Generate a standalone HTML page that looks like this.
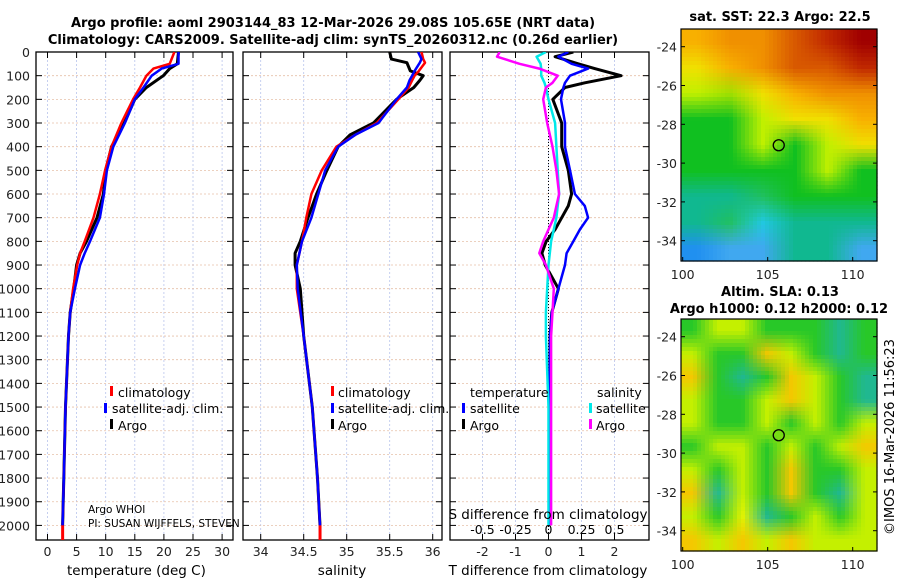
<!DOCTYPE html>
<html><head><meta charset="utf-8"><style>
html,body{margin:0;padding:0;background:#fff;}
svg{display:block;font-family:"DejaVu Sans","Liberation Sans",sans-serif;}
</style></head><body>
<svg id="fig" width="900" height="580" viewBox="0 0 900 580" xmlns="http://www.w3.org/2000/svg">
<defs>
<clipPath id="clipP1"><rect x="36" y="52" width="197" height="488"/></clipPath>
<clipPath id="clipP2"><rect x="243" y="52" width="199" height="488"/></clipPath>
<clipPath id="clipP3"><rect x="450" y="52" width="199" height="488"/></clipPath>
</defs>
<g font-weight="bold" font-size="13" text-anchor="middle" fill="#000">
<text x="333" y="27">Argo profile: aoml 2903144_83 12-Mar-2026 29.08S 105.65E (NRT data)</text>
<text x="333" y="44">Climatology: CARS2009. Satellite-adj clim: synTS_20260312.nc (0.26d earlier)</text>
<text x="780" y="21">sat. SST: 22.3 Argo: 22.5</text>
<text x="780" y="296">Altim. SLA: 0.13</text>
<text x="779" y="313">Argo h1000: 0.12 h2000: 0.12</text>
</g>
<text transform="translate(894,437) rotate(-90)" font-size="13" text-anchor="middle">©IMOS 16-Mar-2026 11:56:23</text>
<g id="maps"></g>
<g id="panels"></g>
</svg>
<script>
// ---------- data ----------
const tempDepth = [0,50,70,100,150,200,300,400,500,600,700,800,850,900,1000,1100,1200,1500,1800,2000];
const tempClim  = [21.8,21.0,18.2,17.0,15.9,14.7,12.7,11.0,9.9,9.0,7.9,6.4,5.6,5.1,4.4,3.9,3.6,3.1,2.8,2.6];
const tempSat   = [22.5,22.5,19.6,17.9,16.5,15.0,13.3,11.3,10.2,9.7,9.0,7.3,6.4,5.6,4.7,3.9,3.6,3.1,2.8,2.6];
const tempArgo  = [22.5,22.3,21.0,19.9,17.0,15.0,13.2,11.0,10.0,9.6,8.5,6.7,5.6,5.0,4.5,3.9,3.6,3.1,2.8,2.6];
const salDepth  = [0,30,45,80,100,120,150,200,300,350,400,500,600,700,800,850,900,1000,1200,1500,1800,2000];
const salClim   = [35.87,35.89,35.91,35.84,35.79,35.76,35.72,35.60,35.35,35.1,34.88,34.71,34.59,34.53,34.48,34.45,34.42,34.42,34.5,34.6,34.66,34.69];
const salSat    = [35.83,35.87,35.85,35.79,35.76,35.73,35.70,35.58,35.37,35.1,34.90,34.75,34.67,34.59,34.48,34.45,34.42,34.43,34.5,34.6,34.66,34.69];
const salArgo   = [35.50,35.52,35.70,35.74,35.89,35.85,35.78,35.58,35.31,35.04,34.90,34.77,34.65,34.55,34.46,34.40,34.40,34.46,34.5,34.6,34.66,34.69];
const diffDepth = [0,20,50,70,100,130,150,200,300,400,500,600,650,700,750,800,850,900,1000,1100,1200,1500,1800,2000];
const dTArgo    = [0.75,0.2,0.9,1.4,2.2,1.1,0.5,0.13,0.4,0.4,0.6,0.7,0.6,0.4,0.2,-0.07,-0.2,-0.1,0.3,0.1,0.05,0.03,0.02,0.02];
const dTSat     = [0.6,0.3,0.7,1.2,0.65,0.5,0.45,0.38,0.5,0.5,0.65,0.8,1.1,1.2,0.95,0.75,0.55,0.5,0.3,0.1,0.05,0.03,0.02,0.02];
const dSSat     = [-0.02,-0.09,-0.06,-0.055,-0.055,-0.03,-0.02,0.0,0.05,0.06,0.07,0.08,0.07,0.06,0.04,0.02,0.01,0.0,-0.01,-0.02,-0.02,0.0,0.0,0.0];
const dSArgo    = [-0.37,-0.39,-0.22,-0.07,0.07,0.03,-0.02,-0.04,-0.01,0.03,0.06,0.08,0.06,0.04,0.0,-0.04,-0.07,-0.02,0.04,0.03,0.02,0.02,0.02,0.02];
const depthTicks = [0,100,200,300,400,500,600,700,800,900,1000,1100,1200,1300,1400,1500,1600,1700,1800,1900,2000];
const tempTicks = [0,5,10,15,20,25,30];
const salTicks = [34,34.5,35,35.5,36];
const dTTicks = [-2,-1,0,1,2];
const dSTickLabels = ["-0.5","-0.25","0","0.25","0.5"];
const dSTicks = [-0.5,-0.25,0,0.25,0.5];
const lonTicks = [100,105,110];
const latTicks = [-24,-26,-28,-30,-32,-34];
const argoLon = 105.65, argoLat = -29.08;
const sstGrid = [
 "oOOrRD","yoOrrR","lLyoOO","GGlyyo","GGlGly","GGGGlG","TTgGGG","TgCTTT","BbbTTb"];
const slaGrid = [
 "GLLGGGTG","LGGOLGTG","OGTGOLGT","LGGLOLGT","LGGLGLGL","GLLGLGLO","LGLGOGGL","OTLGOGTL","LGYTGLGL","OLOLOLLL"];

// ---------- helpers ----------
const NS = "http://www.w3.org/2000/svg";
const svg = document.getElementById('fig');
const panels = document.getElementById('panels');
const maps = document.getElementById('maps');
function mk(tag, attrs, parent){const e=document.createElementNS(NS,tag);for(const k in attrs)e.setAttribute(k,attrs[k]);(parent||svg).appendChild(e);return e;}
const yTop=52, yBot=540, pxPerM=0.2367;
function yD(d){return yTop+d*pxPerM;}
const xT=t=>47.5+t*5.82;
const xS=s=>260.7+(s-34)*86;
const xDT=t=>548.5+t*33;
const xDS=s=>548.5+s*132;

function panelFrame(x0,x1,name,xt,xfn,labels,showY){
  const g=mk('g',{},panels);
  
  
  xt.forEach(v=>{const x=xfn(v);const l=mk('line',{x1:x,x2:x,y1:yTop,y2:yBot,stroke:'#b8c4ec','stroke-width':0.8,'stroke-dasharray':'2,2'},g);
    });
  depthTicks.forEach(d=>{const y=yD(d);const l=mk('line',{x1:x0,x2:x1,y1:y,y2:y,stroke:'#e6c0a8','stroke-width':0.8,'stroke-dasharray':'2,2'},g);
    
    mk('line',{x1:x0,x2:x0+6,y1:y,y2:y,stroke:'#000'},g);mk('line',{x1:x1-6,x2:x1,y1:y,y2:y,stroke:'#000'},g);
    if(showY){const t=mk('text',{x:x0-6,y:y+5,'font-size':12.5,'text-anchor':'end',fill:'#222'},g);t.textContent=d;
      }
  });
  xt.forEach((v,i)=>{const x=xfn(v);mk('line',{x1:x,x2:x,y1:yBot,y2:yBot-6,stroke:'#000'},g);mk('line',{x1:x,x2:x,y1:yTop,y2:yTop+6,stroke:'#000'},g);
    if(labels){const t=mk('text',{x:x,y:556,'font-size':12.5,'text-anchor':'middle',fill:'#222'},g);t.textContent=labels[i];
      }});
  const r=mk('rect',{x:x0,y:yTop,width:x1-x0,height:yBot-yTop,fill:'none',stroke:'#000','stroke-width':1.3},g);
  
  return g;
}
function line(xfn,vals,depths,color,w,clip,name){
  const d=vals.map((v,i)=>(i?'L':'M')+xfn(v).toFixed(1)+','+yD(depths[i]).toFixed(1)).join(' ');
  const p=mk('path',{d:d,fill:'none',stroke:color,'stroke-width':w,'stroke-linejoin':'round','clip-path':'url(#'+clip+')'},panels);
  
  
}
function txt(x,y,s,name,size,anchor){const t=mk('text',{x:x,y:y,'font-size':size||12.5,'text-anchor':anchor||'start'},panels);t.textContent=s;
  return t;}
function mark(x,y,color,name){const r=mk('rect',{x:x,y:y-6,width:3,height:10,fill:color},panels);
  }

// ---------- panel 1 ----------
panelFrame(36,233,'temperature-panel',tempTicks,xT,tempTicks.map(String),true);
line(xT,tempArgo,tempDepth,'#000',3,'clipP1','temp-argo-line');
line(xT,tempClim,tempDepth,'#ff0000',2.5,'clipP1','temp-climatology-line');
line(xT,tempSat,tempDepth,'#0000ff',2.5,'clipP1','temp-satellite-line');
mk('line',{x1:xT(2.6),x2:xT(2.6),y1:yD(2000),y2:yBot,stroke:'#f00','stroke-width':3},panels);
txt(67,575,'temperature (deg C)','temperature-axis-title',13.5);
mark(110,392,'#f00','legend-climatology-marker');txt(118,397,'climatology','legend-climatology');
mark(104,409,'#00f','legend-satellite-marker');txt(112,413,'satellite-adj. clim.','legend-satellite-adj');
mark(110,425,'#000','legend-argo-marker');txt(118,430,'Argo','legend-argo');
txt(88,513,'Argo WHOI','argo-institution',10.5);
txt(88,527,'PI: SUSAN WIJFFELS, STEVEN','argo-pi',10.5);

// ---------- panel 2 ----------
panelFrame(243,442,'salinity-panel',salTicks,xS,salTicks.map(String),false);
line(xS,salArgo,salDepth,'#000',3,'clipP2','sal-argo-line');
line(xS,salClim,salDepth,'#ff0000',2.5,'clipP2','sal-climatology-line');
line(xS,salSat,salDepth,'#0000ff',2.5,'clipP2','sal-satellite-line');
mk('line',{x1:xS(34.69),x2:xS(34.69),y1:yD(2000),y2:yBot,stroke:'#f00','stroke-width':3},panels);
txt(342,575,'salinity','salinity-axis-title',13.5,'middle');
mark(331,392,'#f00','legend2-climatology-marker');txt(338,397,'climatology','legend2-climatology');
mark(331,409,'#00f','legend2-satellite-marker');txt(338,413,'satellite-adj. clim.','legend2-satellite-adj');
mark(331,425,'#000','legend2-argo-marker');txt(338,430,'Argo','legend2-argo');

// ---------- panel 3 ----------
panelFrame(450,649,'difference-panel',dTTicks,xDT,dTTicks.map(String),false);
mk('line',{x1:xDT(0),x2:xDT(0),y1:yTop,y2:yBot,stroke:'#000','stroke-width':1,'stroke-dasharray':'1,2'},panels);
line(xDT,dTArgo,diffDepth,'#000',3,'clipP3','dT-argo-line');
line(xDT,dTSat,diffDepth,'#0000ff',2.5,'clipP3','dT-satellite-line');
line(xDS,dSSat,diffDepth,'#00e8e8',2.5,'clipP3','dS-satellite-line');
line(xDS,dSArgo,diffDepth,'#ff00ff',2.5,'clipP3','dS-argo-line');
txt(548,575,'T difference from climatology','dT-axis-title',13.5,'middle');
txt(548,519,'S difference from climatology','dS-axis-title',13.5,'middle');
dSTicks.forEach((v,i)=>txt(xDS(v),534,dSTickLabels[i],'dS-tick-label',12.5,'middle'));
txt(470,397,'temperature','legend3-temperature-header');
txt(597,397,'salinity','legend3-salinity-header');
mark(462,409,'#00f','legend3-t-satellite-marker');txt(470,413,'satellite','legend3-t-satellite');
mark(462,425,'#000','legend3-t-argo-marker');txt(470,430,'Argo','legend3-t-argo');
mark(589,409,'#00e8e8','legend3-s-satellite-marker');txt(596,413,'satellite','legend3-s-satellite');
mark(589,425,'#f0f','legend3-s-argo-marker');txt(596,430,'Argo','legend3-s-argo');

// ---------- maps ----------
const sstColors={D:'#a00000',R:'#c02800',r:'#d85800',O:'#f09000',o:'#f8b000',y:'#f0e000',l:'#c0f000',L:'#a0e000',G:'#10c020',g:'#20c060',T:'#10b890',C:'#20c8e0',B:'#2090f0',b:'#40a8f0'};
const slaColors={G:'#28c828',L:'#c4f000',O:'#f4c800',T:'#20b890',Y:'#e4f400'};
function hex(h){return [parseInt(h.substr(1,2),16),parseInt(h.substr(3,2),16),parseInt(h.substr(5,2),16)];}
const lonX=(lon)=>682.7+(lon-100)*17;
function drawMap(y0,grid,colors,name,lat24y,nx,ny){
  const g=mk('g',{},maps);
  
  
  const x0=681,w=196,h=232;
  const rows=grid.length,cols=grid[0].length;
  const C=grid.map(r=>r.split('').map(ch=>hex(colors[ch])));
  const cw=w/nx,ch=h/ny;
  for(let j=0;j<ny;j++)for(let i=0;i<nx;i++){
    let fx=(i+0.5)/nx*cols-0.5, fy=(j+0.5)/ny*rows-0.5;
    fx=Math.max(0,Math.min(cols-1.0001,fx)); fy=Math.max(0,Math.min(rows-1.0001,fy));
    const ix=Math.floor(fx),iy=Math.floor(fy),ax=fx-ix,ay=fy-iy;
    const ix2=Math.min(cols-1,ix+1),iy2=Math.min(rows-1,iy+1);
    const c=[0,1,2].map(k=>Math.round(C[iy][ix][k]*(1-ax)*(1-ay)+C[iy][ix2][k]*ax*(1-ay)+C[iy2][ix][k]*(1-ax)*ay+C[iy2][ix2][k]*ax*ay));
    mk('rect',{x:(x0+i*cw).toFixed(2),y:(y0+j*ch).toFixed(2),width:(cw+0.6).toFixed(2),height:(ch+0.6).toFixed(2),fill:'rgb('+c.join(',')+')'},g);
  }
  const latY=lat=>lat24y+(-24-lat)*19.4;
  mk('rect',{x:x0,y:y0,width:w,height:h,fill:'none',stroke:'#000','stroke-width':1.2},g);
  lonTicks.forEach(v=>{const x=lonX(v);mk('line',{x1:x,x2:x,y1:y0+h,y2:y0+h-4,stroke:'#000'},g);
    const t=mk('text',{x:x,y:y0+h+18,'font-size':12.5,'text-anchor':'middle',fill:'#222'},g);t.textContent=v;
    });
  latTicks.forEach(v=>{const y=latY(v);mk('line',{x1:x0,x2:x0+4,y1:y,y2:y,stroke:'#000'},g);mk('line',{x1:x0+w-4,x2:x0+w,y1:y,y2:y,stroke:'#000'},g);
    const t=mk('text',{x:x0-4,y:y+5,'font-size':12.5,'text-anchor':'end',fill:'#222'},g);t.textContent=v;
    });
  const c=mk('circle',{cx:lonX(argoLon),cy:latY(argoLat),r:5.5,fill:'none',stroke:'#000','stroke-width':1.3},g);
  
  
}
drawMap(29,sstGrid,sstColors,'sst-map',46.7,49,58);
drawMap(319,slaGrid,slaColors,'sla-map',336.7,49,58);
</script>
</body></html>
